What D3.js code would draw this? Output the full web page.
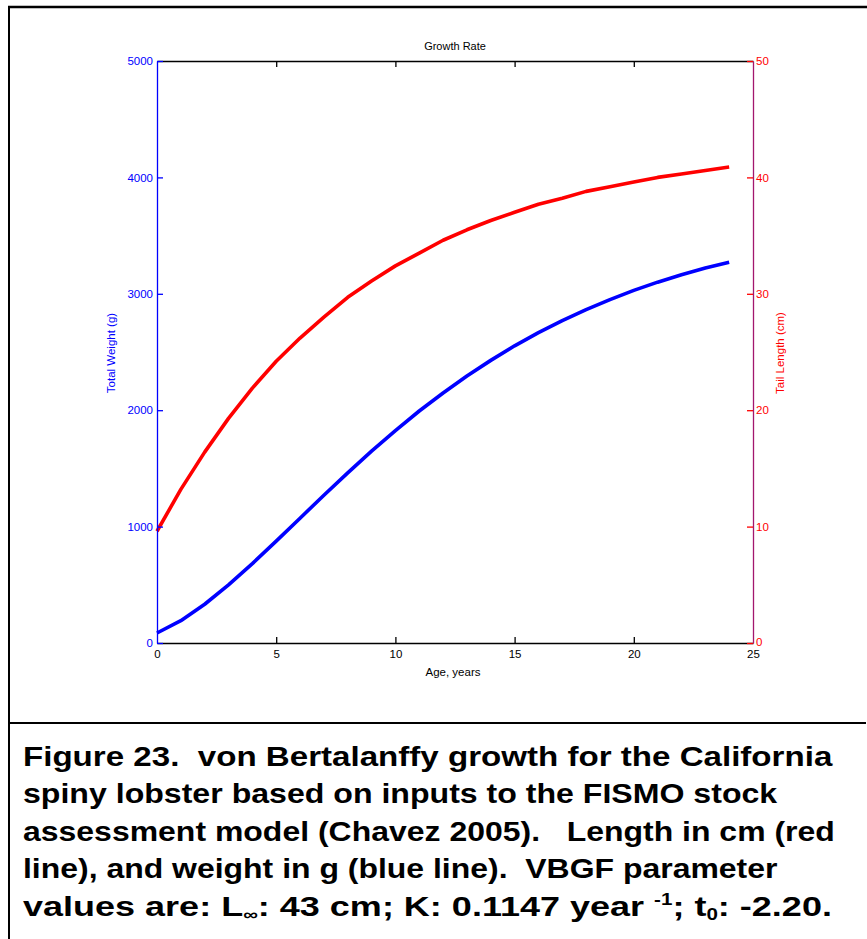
<!DOCTYPE html>
<html><head><meta charset="utf-8">
<script src="https://cdn.jsdelivr.net/npm/d3@7"></script>
<style>
body{margin:0;background:#fff}
svg{display:block}
text{font-family:"Liberation Sans",Arial,Helvetica,sans-serif}
</style>
</head><body>
<svg id="c" width="867" height="939"></svg>
<script>
// ---- data ----
const ages = [0,1,2,3,4,5,6,7,8,9,10,11,12,13,14,15,16,17,18,19,20,21,22,23,24];
const weightG = [86,192,333,499,682,875,1072,1270,1462,1648,1825,1993,2148,2294,2428,2553,2666,2769,2864,2950,3029,3100,3164,3221,3270];
const tailLengthCm = [9.6,13.2,16.4,19.3,21.9,24.2,26.2,28.0,29.7,31.1,32.4,33.5,34.6,35.5,36.3,37.0,37.7,38.2,38.8,39.2,39.6,40.0,40.3,40.6,40.9];
const xTicks = [0,5,10,15,20,25];
const weightTicks = [0,1000,2000,3000,4000,5000];
const lengthTicks = [0,10,20,30,40,50];
const titleText = "Growth Rate";
const xLabel = "Age, years";
const yLeftLabel = "Total Weight (g)";
const yRightLabel = "Tail Length (cm)";
const captionLines = [
  [["Figure 23.  von Bertalanffy growth for the California"]],
  [["spiny lobster based on inputs to the FISMO stock"]],
  [["assessment model (Chavez 2005).   Length in cm (red"]],
  [["line), and weight in g (blue line).  VBGF parameter"]],
  [["values are: L"],["\u221e","sub"],[": 43 cm; K: 0.1147 year "],["-1","sup"],["; t"],["0","sub"],[": -2.20."]]
];
const captionWidths = [810, 755, 812, 755, 809];

// ---- layout ----
const svg = d3.select("#c");
const L = 157, R = 753, T = 61, B = 643;
const BLUE = "#0000ff", RED = "#ff0000", PURPLE = "#a3176e";
const fmt = d3.format("d");

const x = d3.scaleLinear().domain([0,25]).range([L,R]);
const yW = d3.scaleLinear().domain([0,5000]).range([B,T]);
const yL = d3.scaleLinear().domain([0,50]).range([B,T]);

// frame
svg.append("line").attr("x1",8).attr("x2",867).attr("y1",7).attr("y2",7).attr("stroke","#000").attr("stroke-width",2.5);
svg.append("line").attr("x1",9).attr("x2",9).attr("y1",6).attr("y2",939).attr("stroke","#000").attr("stroke-width",2);
svg.append("line").attr("x1",8).attr("x2",866).attr("y1",723).attr("y2",723).attr("stroke","#000").attr("stroke-width",2);

// curves
const lineW = d3.line().x((d,i)=>x(ages[i])).y(d=>yW(d));
const lineL = d3.line().x((d,i)=>x(ages[i])).y(d=>yL(d));
svg.append("path").attr("d",lineW(weightG)).attr("fill","none").attr("stroke",BLUE).attr("stroke-width",3.6).attr("stroke-linejoin","round");
svg.append("path").attr("d",lineL(tailLengthCm)).attr("fill","none").attr("stroke",RED).attr("stroke-width",3.6).attr("stroke-linejoin","round");

function styleAxis(g, lineColor, tickColor, textColor){
  g.select(".domain").attr("stroke",lineColor).attr("stroke-width",1.3);
  g.selectAll(".tick line").attr("stroke",tickColor).attr("stroke-width",1.3);
  g.selectAll(".tick text").attr("fill",textColor).attr("font-size",11.5).attr("font-family",'"Liberation Sans",Arial,sans-serif');
}

// top axis
const gTop = svg.append("g").attr("transform",`translate(0,${T})`)
  .call(d3.axisTop(x).tickValues(xTicks.slice(1,-1)).tickSizeInner(-6).tickSizeOuter(0).tickFormat(""));
styleAxis(gTop,"#000","#000","#000");

// bottom axis
const gBot = svg.append("g").attr("transform",`translate(0,${B})`)
  .call(d3.axisBottom(x).tickValues(xTicks).tickFormat(fmt).tickSizeInner(-6).tickSizeOuter(0).tickPadding(7));
styleAxis(gBot,"#000","#000","#000");
gBot.selectAll(".tick").filter(d=>d===0||d===25).select("line").remove();

// left axis
const gLeft = svg.append("g").attr("transform",`translate(${L},0)`)
  .call(d3.axisLeft(yW).tickValues(weightTicks).tickFormat(fmt).tickSizeInner(-6).tickSizeOuter(0).tickPadding(4));
styleAxis(gLeft,BLUE,BLUE,BLUE);

// right axis
const gRight = svg.append("g").attr("transform",`translate(${R},0)`)
  .call(d3.axisRight(yL).tickValues(lengthTicks).tickFormat(fmt).tickSizeInner(-6).tickSizeOuter(0).tickPadding(3));
styleAxis(gRight,PURPLE,RED,RED);
gRight.selectAll(".tick").filter(d=>d===0).select("text").attr("dy","0.2em");

// titles
svg.append("text").attr("x",455).attr("y",50).attr("text-anchor","middle").attr("font-size",11).attr("fill","#000").text(titleText);
svg.append("text").attr("x",453).attr("y",676).attr("text-anchor","middle").attr("font-size",11.5).attr("fill","#000").text(xLabel);
svg.append("text").attr("transform","translate(115,353) rotate(-90)").attr("text-anchor","middle").attr("font-size",11.5).attr("fill",BLUE).text(yLeftLabel);
svg.append("text").attr("transform","translate(784,353) rotate(-90)").attr("text-anchor","middle").attr("font-size",11.5).attr("fill",RED).text(yRightLabel);

// caption
const capX = 23, capY0 = 766, capDY = 37.5;
captionLines.forEach((segs,i)=>{
  const y = capY0 + i*capDY;
  const g = svg.append("g");
  const t = g.append("text").attr("x",capX).attr("y",y).attr("font-size",28).attr("font-weight","bold").attr("fill","#000").style("white-space","pre");
  let shift = 0;
  segs.forEach(([s,kind])=>{
    const ts = t.append("tspan").text(s);
    let target = 0;
    if(kind==="sup"){ target = -11; ts.attr("font-size",16); }
    else if(kind==="sub"){ target = 4; ts.attr("font-size",16); }
    ts.attr("dy", target - shift);
    shift = target;
  });
  const w = t.node().getBBox().width;
  const sx = captionWidths[i] / w;
  g.attr("transform",`translate(${capX},0) scale(${sx},1) translate(${-capX},0)`);
});
</script>
</body></html>
